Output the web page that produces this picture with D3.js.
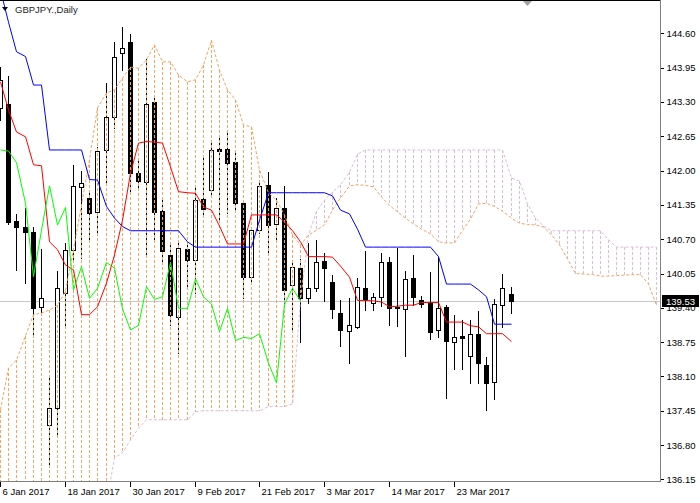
<!DOCTYPE html>
<html><head><meta charset="utf-8">
<script src="https://cdn.jsdelivr.net/npm/d3@7"></script>
<style>
html,body{margin:0;padding:0;background:#fff;}
svg{display:block;}
text{font-family:"Liberation Sans", Arial, sans-serif;}
</style>
</head><body>
<svg id="c" width="700" height="503"></svg>
<script>
// ---- data ----
const title = "GBPJPY.,Daily";
const dateLabels = ["6 Jan 2017","18 Jan 2017","30 Jan 2017","9 Feb 2017","21 Feb 2017","3 Mar 2017","14 Mar 2017","23 Mar 2017"];
const yTicks = [136.15,136.80,137.45,138.10,138.75,139.40,140.05,140.70,141.35,142.00,142.65,143.30,143.95,144.60];
const lastPrice = 139.53;

const opens = [143.18,143.27,141.05,140.94,140.84,139.42,137.18,137.50,139.68,140.50,
141.69,141.48,141.22,142.39,143.02,144.23,144.44,141.95,141.79,143.29,
141.23,140.40,139.23,140.52,140.31,141.46,141.63,142.40,142.40,142.17,
141.38,139.99,140.87,141.73,140.99,141.29,139.83,140.15,139.58,139.78,
140.29,139.88,139.31,138.97,139.04,139.78,139.50,139.60,140.27,139.41,
139.37,139.96,139.54,139.50,138.98,139.41,138.76,138.87,138.49,138.91,
138.32,138.00,139.45,139.66];
const highs = [143.97,143.79,141.18,141.29,140.94,140.52,138.07,140.09,140.63,142.11,
142.00,141.58,142.45,143.65,144.44,144.72,144.58,142.20,144.11,143.43,
141.44,140.65,140.65,140.63,141.73,142.29,142.58,142.64,142.73,142.39,
141.44,140.93,141.82,141.98,141.48,141.71,140.31,140.32,140.63,140.69,
140.43,140.02,139.55,139.59,139.96,140.48,139.68,140.43,140.36,140.54,
140.10,140.40,139.62,140.07,140.37,139.45,139.27,139.17,139.17,139.34,
138.47,139.56,140.04,139.79];
const lows = [142.96,140.99,140.12,139.87,138.85,139.27,136.39,136.99,139.08,140.31,
140.34,140.69,140.78,141.77,142.81,143.90,141.60,141.67,140.37,140.69,
140.27,139.08,138.55,139.78,139.68,141.16,141.51,141.06,141.20,141.25,
139.59,139.89,140.82,140.40,140.69,139.49,138.98,138.76,139.50,139.71,
139.52,139.20,138.67,138.36,139.01,139.36,139.36,139.44,139.08,139.06,
138.49,139.45,139.42,138.81,138.84,137.69,138.24,138.24,137.97,137.97,
137.47,137.67,139.04,139.30];
const closes = [143.72,141.03,140.93,140.84,139.39,139.59,137.50,139.78,140.50,141.70,
141.77,141.20,142.37,143.02,144.16,144.32,141.95,141.80,143.27,141.22,
140.48,139.27,140.53,140.31,141.44,141.27,142.39,142.37,142.15,141.38,
139.99,140.87,141.71,140.97,141.30,139.74,140.18,139.58,139.77,140.26,
140.15,139.38,138.98,139.07,139.80,139.56,139.61,140.26,139.39,139.39,
139.95,139.61,139.47,138.95,139.39,138.78,138.84,138.82,138.91,138.35,
137.98,139.47,139.77,139.53];

const tenkan = [143.68,143.15,142.73,142.64,142.11,142.09,140.65,140.50,140.21,140.12,
139.27,139.27,139.42,139.87,140.40,141.06,141.95,142.52,142.55,142.54,
142.52,142.07,141.60,141.58,141.57,141.31,141.25,140.95,140.61,140.61,
140.61,141.16,141.16,141.16,141.16,141.03,140.86,140.65,140.37,140.37,
140.37,140.36,140.19,139.98,139.54,139.54,139.53,139.51,139.42,139.43,
139.45,139.45,139.50,139.50,139.50,139.13,139.13,139.13,139.06,139.04,
138.91,138.91,138.91,138.76];
const kijun = [145.42,144.81,144.25,144.16,143.62,143.62,142.39,142.39,142.39,142.39,
142.39,141.83,141.82,141.32,141.10,140.94,140.86,140.86,140.86,140.86,
140.86,140.86,140.86,140.65,140.55,140.55,140.55,140.55,140.55,140.55,
140.55,140.55,141.06,141.58,141.58,141.58,141.58,141.58,141.58,141.58,
141.58,141.52,141.25,141.18,140.89,140.55,140.55,140.55,140.55,140.55,
140.55,140.55,140.55,140.55,140.37,139.85,139.85,139.85,139.85,139.74,
139.61,139.09,139.09,139.09];
const spanA = [137.47,138.26,138.41,138.87,139.27,139.30,139.36,139.45,139.72,140.50,
141.35,142.20,143.19,143.47,143.53,143.75,143.96,143.94,144.10,144.38,
144.06,144.06,143.81,143.68,143.72,144.00,144.47,143.90,143.53,143.34,
142.86,142.83,142.01,141.58,141.44,141.16,140.78,140.59,140.78,140.87,
140.97,141.25,141.48,141.71,141.73,141.72,141.69,141.50,141.34,141.22,
141.10,140.99,140.89,140.80,140.65,140.63,140.63,140.87,141.08,141.37,
141.38,141.32,141.23,141.10,141.00,140.98,140.97,140.93,140.78,140.59,
140.33,140.05,140.04,140.03,140.00,140.00,140.01,140.02,140.03,140.03,
139.85,139.45];
const spanB = [135.70,135.70,135.70,135.70,135.70,135.70,135.70,135.70,135.70,135.70,
135.70,135.70,135.70,135.70,136.56,136.65,136.90,137.12,137.28,137.28,
137.28,137.28,137.28,137.28,137.43,137.45,137.45,137.45,137.45,137.45,
137.45,137.45,137.45,137.53,137.53,137.53,137.58,139.55,140.78,141.23,
141.44,141.59,141.73,141.97,142.31,142.39,142.39,142.39,142.39,142.39,
142.39,142.39,142.39,142.39,142.39,142.39,142.39,142.39,142.39,142.39,
142.39,142.39,142.39,141.86,141.80,141.37,141.10,140.95,140.86,140.86,
140.86,140.86,140.86,140.86,140.86,140.69,140.55,140.55,140.55,140.55,
140.55,140.55];
const chikouShift = 26;

// ---- layout ----
const plotR = 661, plotB = 482;
const svg = d3.select("#c");
svg.append("rect").attr("width",700).attr("height",503).attr("fill","#fff");

const x = d3.scaleLinear().domain([0, 80]).range([0.7, 648.7]);
const y = d3.scaleLinear().domain([136.15, 144.60]).range([479.4, 33.3]);
const col = i => Math.floor(x(i));

svg.append("defs").append("clipPath").attr("id","clip")
  .append("rect").attr("x",0).attr("y",1).attr("width",plotR).attr("height",plotB-1);
const plot = svg.append("g").attr("clip-path","url(#clip)");

// current price line
plot.append("line").attr("x1",0).attr("x2",plotR)
  .attr("y1",Math.round(y(lastPrice))+0.5).attr("y2",Math.round(y(lastPrice))+0.5)
  .attr("stroke","#c8c8c8").attr("stroke-width",1);

// candles
const cg = plot.append("g").attr("shape-rendering","crispEdges");
opens.forEach((o,i)=>{
  const c = closes[i], cx = col(i)+0.5;
  cg.append("line").attr("x1",cx).attr("x2",cx)
    .attr("y1",Math.round(y(highs[i]))).attr("y2",Math.round(y(lows[i]))+1)
    .attr("stroke","#000");
  const top = Math.round(y(Math.max(o,c))), bot = Math.round(y(Math.min(o,c)));
  cg.append("rect").attr("x",cx-2).attr("y",top+0.5)
    .attr("width",4).attr("height",Math.max(bot-top,1))
    .attr("fill", c>=o ? "#fff" : "#000").attr("stroke","#000");
});

// cloud histogram
const hg = plot.append("g").attr("shape-rendering","crispEdges");
spanA.forEach((a,i)=>{
  const b = spanB[i], cx = col(i)+0.5;
  hg.append("line").attr("x1",cx).attr("x2",cx)
    .attr("y1",y(Math.max(a,b))).attr("y2",y(Math.min(a,b)))
    .attr("stroke", a>=b ? "#F4A460" : "#D8BFD8")
    .attr("stroke-width",1).attr("stroke-dasharray","3,2");
});
const line = d3.line().x((d,i)=>col(i)+0.5).y(d=>y(d));
plot.append("path").datum(spanB).attr("d",line).attr("fill","none")
  .attr("stroke","#D8BFD8").attr("stroke-dasharray","3,2");
plot.append("path").datum(spanA).attr("d",line).attr("fill","none")
  .attr("stroke","#F4A460").attr("stroke-dasharray","3,2");

// tenkan / kijun / chikou
plot.append("path").datum(kijun).attr("d",line).attr("fill","none").attr("stroke","#0000FF");
plot.append("path").datum(tenkan).attr("d",line).attr("fill","none").attr("stroke","#FF0000");
const chikou = closes.slice(chikouShift);
plot.append("path").datum(chikou).attr("d",line).attr("fill","none").attr("stroke","#00FF00");

// frame
svg.append("line").attr("x1",0).attr("x2",plotR).attr("y1",0.5).attr("y2",0.5).attr("stroke","#000");
svg.append("line").attr("x1",plotR-0.5).attr("x2",plotR-0.5).attr("y1",0).attr("y2",plotB).attr("stroke","#808080");
svg.append("line").attr("x1",0).attr("x2",plotR).attr("y1",plotB-0.5).attr("y2",plotB-0.5).attr("stroke","#808080");

// y axis
const ya = svg.append("g").attr("transform",`translate(${plotR-0.5},0)`)
  .call(d3.axisRight(y).tickValues(yTicks).tickSize(3).tickPadding(3).tickFormat(d3.format(".2f")));
ya.select(".domain").remove();
ya.selectAll("line").attr("stroke","#000").attr("shape-rendering","crispEdges");
ya.selectAll("text").attr("font-size","9.5px").attr("fill","#000")
  .attr("font-family","Liberation Sans, Arial, sans-serif");

// x axis
const labelIdx = dateLabels.map((d,k)=>k*8);
const xa = svg.append("g").attr("transform",`translate(0.5,${plotB-0.5})`)
  .call(d3.axisBottom(x).tickValues(labelIdx).tickSize(5).tickFormat((d,k)=>dateLabels[k]));
xa.select(".domain").remove();
xa.selectAll(".tick").attr("transform",d=>`translate(${col(d)},0)`);
xa.selectAll("line").attr("stroke","#000").attr("shape-rendering","crispEdges");
xa.selectAll("text").attr("text-anchor","start").attr("x",2).attr("y",13).attr("dy",0)
  .attr("font-size","9.5px").attr("fill","#000")
  .attr("font-family","Liberation Sans, Arial, sans-serif");

// price label
const py = Math.round(y(lastPrice));
svg.append("rect").attr("x",662).attr("y",py-6).attr("width",37).attr("height",12).attr("fill","#000");
svg.append("text").attr("x",666).attr("y",py+4).attr("fill","#fff").attr("font-size","9.5px").text(lastPrice.toFixed(2));

// title
svg.append("path").attr("d","M2,7L8,7L5,11Z").attr("fill","#000");
svg.append("text").attr("x",15).attr("y",13).attr("font-size","9.5px").attr("fill","#222").text(title);
// shift marker
svg.append("path").attr("d","M523,1L532,1L527.5,6Z").attr("fill","#a0a0a0");
</script>
</body></html>
